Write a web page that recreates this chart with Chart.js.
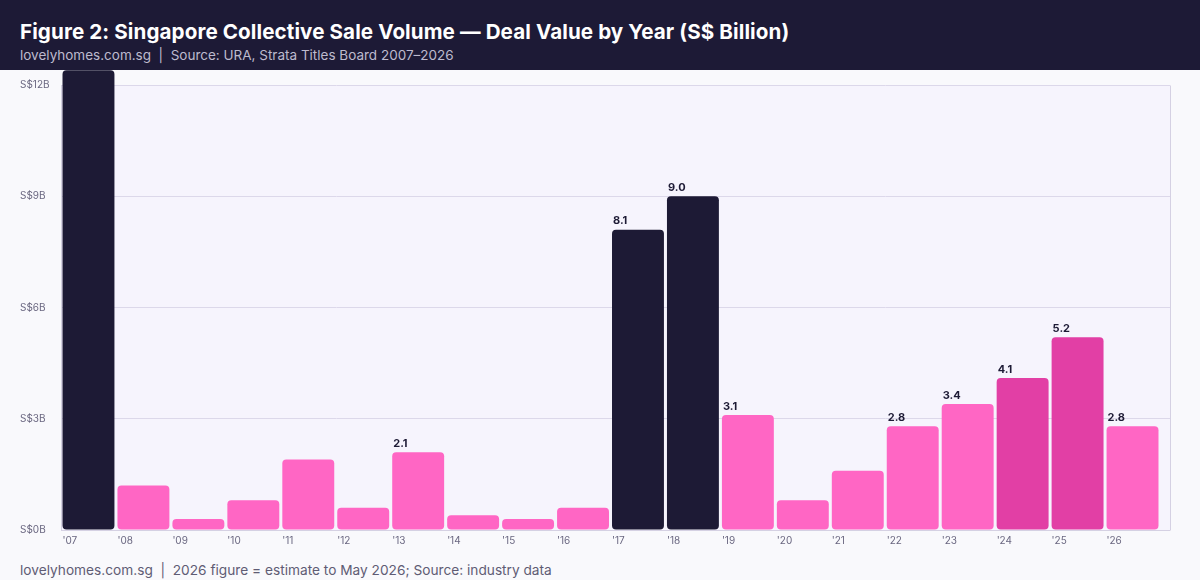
<!DOCTYPE html>
<html>
<head>
<meta charset="utf-8">
<script src="https://cdn.jsdelivr.net/npm/chart.js@4"></script>
<style>
  html, body { margin: 0; padding: 0; width: 1200px; height: 580px; background: #f9f9fc; overflow: hidden; font-family: "Inter", "DejaVu Sans", sans-serif; }
  #header { position: absolute; left: 0; top: 0; width: 1200px; height: 70px; background: #1d1a36; }
  #title { position: absolute; left: 20px; top: 19px; color: #ffffff; font-weight: 700; font-size: 20.6px; letter-spacing: 0.1px; white-space: nowrap; }
  #subtitle { position: absolute; left: 20px; top: 47px; color: #bdbace; font-size: 13.5px; white-space: nowrap; }
  #wrap { position: absolute; left: 0; top: 70px; width: 1200px; height: 480px; }
  #footer { position: absolute; left: 20px; top: 562px; color: #5f5c74; font-size: 13.7px; white-space: nowrap; }
</style>
</head>
<body>
<div id="header">
  <div id="title">Figure 2: Singapore Collective Sale Volume — Deal Value by Year (S$ Billion)</div>
  <div id="subtitle">lovelyhomes.com.sg&nbsp; |&nbsp; Source: URA, Strata Titles Board 2007–2026</div>
</div>
<div id="wrap"><canvas id="c" width="1200" height="480"></canvas></div>
<div id="footer">lovelyhomes.com.sg&nbsp; |&nbsp; 2026 figure = estimate to May 2026; Source: industry data</div>
<script>
const years = ["'07","'08","'09","'10","'11","'12","'13","'14","'15","'16","'17","'18","'19","'20","'21","'22","'23","'24","'25","'26"];
const dealValues = [12.4, 1.2, 0.3, 0.8, 1.9, 0.6, 2.1, 0.4, 0.3, 0.6, 8.1, 9.0, 3.1, 0.8, 1.6, 2.8, 3.4, 4.1, 5.2, 2.8];
const peakYears = ["'07","'17","'18"];
const recentPeakYears = ["'24","'25"];
const yTicks = [0, 3, 6, 9, 12];

const DARK = '#1d1a35', PINK = '#ff66c4', MAGENTA = '#e23fa5';
const barColors = years.map(y => peakYears.includes(y) ? DARK : (recentPeakYears.includes(y) ? MAGENTA : PINK));
const EXTRA_RIGHT = 10;
const align = p => Math.round(p - 0.5) + 0.5;

const plotBg = {
  id: 'plotBg',
  beforeDraw(chart) {
    const { ctx, chartArea: a } = chart;
    ctx.save();
    ctx.fillStyle = '#f6f4fd';
    ctx.fillRect(a.left, a.top, a.right - a.left + EXTRA_RIGHT, a.bottom - a.top);
    ctx.restore();
  },
  beforeDatasetsDraw(chart) {
    const { ctx, chartArea: a, scales } = chart;
    ctx.save();
    ctx.strokeStyle = '#dcd8ea';
    ctx.lineWidth = 1;
    yTicks.forEach(v => {
      if (v === 0) return;
      const y = align(scales.y.getPixelForValue(v));
      ctx.beginPath();
      ctx.moveTo(a.right - 1, y);
      ctx.lineTo(a.right + EXTRA_RIGHT, y);
      ctx.stroke();
    });
    ctx.strokeStyle = '#d5d1e3';
    const yb = align(a.bottom);
    ctx.beginPath();
    ctx.moveTo(a.right - 1, yb);
    ctx.lineTo(a.right + EXTRA_RIGHT, yb);
    ctx.stroke();
    const xr = align(a.right + EXTRA_RIGHT);
    ctx.beginPath();
    ctx.moveTo(xr, align(a.top));
    ctx.lineTo(xr, yb);
    ctx.stroke();
    ctx.restore();
  }
};

const valueLabels = {
  id: 'valueLabels',
  afterDatasetsDraw(chart) {
    const { ctx } = chart;
    const meta = chart.getDatasetMeta(0);
    const yMax = chart.scales.y.max;
    ctx.save();
    ctx.font = 'bold 11px Inter, "DejaVu Sans", sans-serif';
    ctx.fillStyle = '#1d1a35';
    ctx.textAlign = 'left';
    ctx.textBaseline = 'bottom';
    meta.data.forEach((bar, i) => {
      const v = dealValues[i];
      if (v >= 2 && v <= yMax) {
        ctx.fillText(v.toFixed(1), bar.x - bar.width / 2 + 1, bar.y - 3);
      }
    });
    ctx.restore();
  }
};

new Chart(document.getElementById('c'), {
  type: 'bar',
  data: {
    labels: years,
    datasets: [{
      data: dealValues,
      backgroundColor: barColors,
      borderRadius: 4,
      borderSkipped: false,
      categoryPercentage: 1.0,
      barPercentage: 0.945,
      clip: false
    }]
  },
  options: {
    responsive: false,
    animation: false,
    layout: { padding: { top: 15, right: 40, left: 20, bottom: 0 } },
    plugins: { legend: { display: false }, tooltip: { enabled: false }, title: { display: false } },
    scales: {
      x: {
        grid: { display: false, drawTicks: false },
        border: { display: true, color: '#d5d1e3' },
        ticks: {
          color: '#6a6780', font: { size: 10, family: 'Inter, "DejaVu Sans", sans-serif' },
          align: 'start', labelOffset: -26, padding: 5, maxRotation: 0, autoSkip: false
        },
        afterFit(s) { s.height = 20; }
      },
      y: {
        min: 0, max: 12,
        afterBuildTicks(s) { s.ticks = yTicks.map(v => ({ value: v })); },
        grid: { color: '#dcd8ea', drawTicks: false },
        border: { display: true, color: '#d5d1e3' },
        ticks: {
          color: '#6a6780', font: { size: 10, family: 'Inter, "DejaVu Sans", sans-serif' },
          crossAlign: 'far', padding: 6,
          callback: v => 'S$' + v + 'B'
        },
        afterFit(s) { s.width = 41; }
      }
    }
  },
  plugins: [plotBg, valueLabels]
});
</script>
</body>
</html>
